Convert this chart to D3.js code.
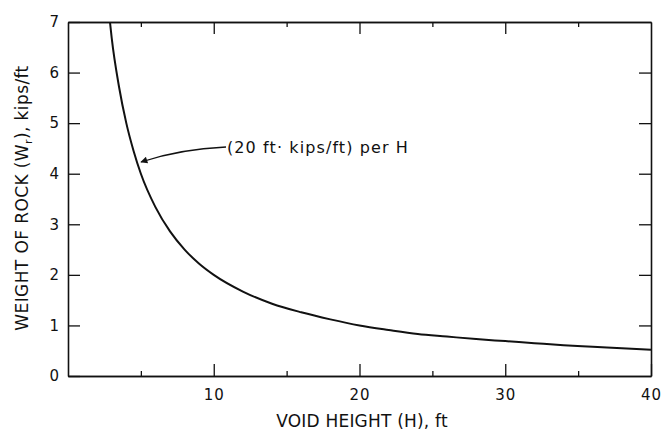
<!DOCTYPE html>
<html>
<head>
<meta charset="utf-8">
<script src="https://cdn.jsdelivr.net/npm/d3@7"></script>
<style>
  body { margin: 0; background: #fff; }
  svg text { font-family: "DejaVu Sans", "Liberation Sans", sans-serif; fill: #111; }
</style>
</head>
<body>
<script>
const w = 662;
const h = 433;

// curve
const voidHeight = [2.88, 3, 3.5, 4, 4.5, 5, 6, 7, 8, 9, 10, 12, 14, 16, 18, 20, 22, 24, 26, 28, 30, 32, 34, 36, 38, 40];
const rockWeight = [7.0, 6.68, 5.72, 5.0, 4.45, 4.0, 3.34, 2.86, 2.5, 2.22, 2.0, 1.67, 1.43, 1.26, 1.12, 1.0, 0.91, 0.83, 0.78, 0.73, 0.69, 0.65, 0.61, 0.58, 0.55, 0.52];

const xMajor = [10, 20, 30, 40];
const xMinor = [5, 15, 25, 35];
const yTicks = [0, 1, 2, 3, 4, 5, 6, 7];

const padL = 68, padR = 651, padT = 22, padB = 376;

const svg = d3.select("body").append("svg").attr("width", w).attr("height", h);

const xScale = d3.scaleLinear().domain([0, 40]).range([padL, padR]);
const yScale = d3.scaleLinear().domain([0, 7]).range([padB, padT]);

function styleAxis(g) {
  g.selectAll("path.domain").attr("stroke", "#111").attr("stroke-width", 1.6);
  g.selectAll(".tick line").attr("stroke", "#111").attr("stroke-width", 1.3);
  g.selectAll("text")
    .attr("font-size", 15)
    .attr("letter-spacing", 1)
    .attr("font-family", "DejaVu Sans")
    .attr("fill", "#111");
}

// bottom
svg.append("g")
  .attr("transform", `translate(0,${padB})`)
  .call(d3.axisBottom(xScale).tickValues(xMajor).tickSizeInner(-12).tickSizeOuter(0).tickPadding(13).tickFormat(d3.format("d")))
  .call(styleAxis);
svg.append("g")
  .attr("transform", `translate(0,${padB})`)
  .call(d3.axisBottom(xScale).tickValues(xMinor).tickSizeInner(-5).tickSizeOuter(0).tickFormat(""))
  .call(styleAxis);

// top
svg.append("g")
  .attr("transform", `translate(0,${padT})`)
  .call(d3.axisTop(xScale).tickValues(xMajor.slice(0, 3)).tickSizeInner(-12).tickSizeOuter(0).tickFormat(""))
  .call(styleAxis);
svg.append("g")
  .attr("transform", `translate(0,${padT})`)
  .call(d3.axisTop(xScale).tickValues(xMinor).tickSizeInner(-5).tickSizeOuter(0).tickFormat(""))
  .call(styleAxis);

// left
svg.append("g")
  .attr("transform", `translate(${padL},0)`)
  .call(d3.axisLeft(yScale).tickValues(yTicks).tickSizeInner(-12).tickSizeOuter(0).tickPadding(8).tickFormat(d3.format("d")))
  .call(styleAxis);

// right
svg.append("g")
  .attr("transform", `translate(${padR},0)`)
  .call(d3.axisRight(yScale).tickValues(yTicks.slice(1, 7)).tickSizeInner(-12).tickSizeOuter(0).tickFormat(""))
  .call(styleAxis);

// curve
const pts = voidHeight.map((v, i) => [v, rockWeight[i]]);
const line = d3.line()
  .x((d) => xScale(d[0]))
  .y((d) => yScale(d[1]))
  .curve(d3.curveMonotoneX);

svg.append("path")
  .datum(pts)
  .attr("d", line)
  .attr("fill", "none")
  .attr("stroke", "#111")
  .attr("stroke-width", 2);

// axis titles
svg.append("text")
  .attr("x", 362)
  .attr("y", 427)
  .attr("text-anchor", "middle")
  .attr("font-size", 17)
  .attr("letter-spacing", 0.2)
  .text("VOID HEIGHT (H), ft");

const yTitle = svg.append("text")
  .attr("transform", "translate(28,198) rotate(-90)")
  .attr("text-anchor", "middle")
  .attr("font-size", 17)
  .attr("letter-spacing", 0.4);
yTitle.append("tspan").text("WEIGHT OF ROCK (W");
yTitle.append("tspan").attr("font-size", 11).attr("dy", 4).text("r");
yTitle.append("tspan").attr("dy", -4).text("), kips/ft");

// annotation
svg.append("defs").append("marker")
  .attr("id", "arrow")
  .attr("viewBox", "0 0 10 10")
  .attr("refX", 9).attr("refY", 5)
  .attr("markerWidth", 9).attr("markerHeight", 7)
  .attr("markerUnits", "userSpaceOnUse")
  .attr("orient", "auto")
  .append("path")
  .attr("d", "M0,0 L10,5 L0,10 Z")
  .attr("fill", "#111");

svg.append("path")
  .attr("d", "M226,147 Q180,149 141,162")
  .attr("fill", "none")
  .attr("stroke", "#111")
  .attr("stroke-width", 1.3)
  .attr("marker-end", "url(#arrow)");

svg.append("text")
  .attr("x", 227)
  .attr("y", 153)
  .attr("font-size", 16)
  .attr("letter-spacing", 1.1)
  .text("(20 ft· kips/ft) per H");
</script>
</body>
</html>
